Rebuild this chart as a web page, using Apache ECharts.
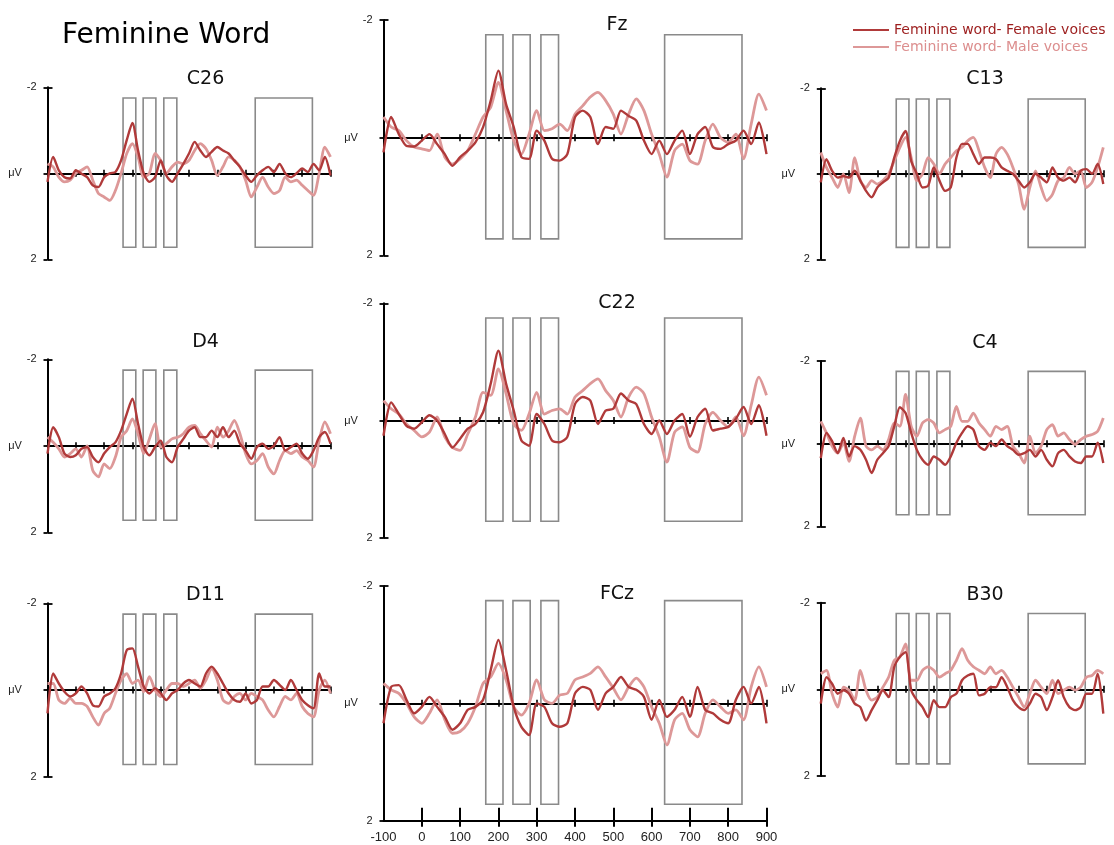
<!DOCTYPE html>
<html><head><meta charset="utf-8">
<script src="https://cdn.jsdelivr.net/npm/echarts@6/dist/echarts.min.js"></script>
<style>html,body{margin:0;padding:0;background:#fff}#c{width:1114px;height:845px}</style>
</head><body><div id="c"></div>
<script>
// ---------------- data ----------------
const times = [-100,-80,-60,-40,-20,0,20,40,60,80,100,120,140,160,180,200,220,240,260,280,300,320,340,360,380,400,420,440,460,480,500,520,540,560,580,600,620,640,660,680,700,720,740,760,780,800,820,840,860,880,900];
const zeroTickValues = [0,100,200,300,400,500,600,700,800,900];
const xLabelValues = [-100,0,100,200,300,400,500,600,700,800,900];
const yLabelValues = [-2, 2];
const analysisWindows = [[167,212],[238,283],[311,357],[634,836]];
const windowRange = [-1.75, 1.72];
const seriesNames = ['Feminine word- Female voices', 'Feminine word- Male voices'];
const mainTitle = 'Feminine Word';

const c26Female = [0.20,-0.38,-0.07,0.09,0.12,-0.07,0.01,0.09,0.28,0.32,0.09,0.00,-0.03,-0.30,-0.77,-1.17,-0.53,0.00,0.20,0.09,-0.30,0.05,0.20,0.00,-0.22,-0.46,-0.73,-0.53,-0.38,-0.50,-0.61,-0.53,-0.46,-0.30,-0.15,0.05,0.20,0.05,-0.07,-0.15,-0.03,-0.22,0.00,0.09,0.00,-0.11,-0.03,-0.22,-0.07,-0.38,0.05];
const c26Male = [-0.22,-0.15,0.09,0.20,0.16,0.00,-0.07,-0.15,0.16,0.47,0.55,0.63,0.40,0.00,-0.46,-0.69,-0.38,0.09,0.00,-0.46,-0.30,0.00,-0.15,-0.26,-0.22,-0.30,-0.53,-0.69,-0.57,-0.30,0.05,-0.15,-0.38,-0.30,-0.15,0.16,0.55,0.32,0.09,0.32,0.47,0.40,0.09,0.20,0.16,0.28,0.40,0.51,0.00,-0.61,-0.38];
const fzFemale = [0.25,-0.35,-0.06,0.14,0.15,0.05,-0.06,0.11,0.28,0.48,0.33,0.22,0.08,-0.18,-0.63,-1.14,-0.57,-0.18,0.33,0.36,-0.12,0.05,0.36,0.39,0.28,-0.35,-0.46,-0.35,0.11,-0.18,-0.15,-0.46,-0.37,-0.29,0.05,0.28,0.05,0.28,0.05,-0.12,0.28,-0.06,-0.18,0.16,0.19,0.11,0.05,-0.12,0.11,-0.26,0.28];
const fzMale = [-0.35,-0.18,-0.12,0.05,0.16,0.19,0.22,-0.06,0.33,0.45,0.36,0.22,-0.06,-0.35,-0.52,-0.94,-0.46,0.05,0.28,-0.06,-0.46,-0.12,-0.15,-0.23,-0.12,-0.40,-0.54,-0.69,-0.77,-0.63,-0.40,-0.06,-0.40,-0.66,-0.46,-0.06,0.28,0.67,0.22,0.11,0.39,0.45,0.05,-0.23,0.00,0.08,-0.06,0.36,-0.23,-0.74,-0.46];
const c13Female = [0.20,-0.34,-0.07,0.09,0.05,0.09,-0.07,0.16,0.40,0.55,0.32,0.20,0.09,-0.38,-0.77,-1.00,-0.30,0.00,0.32,0.28,-0.15,0.16,0.40,0.32,-0.38,-0.70,-0.70,-0.46,-0.23,-0.38,-0.38,-0.34,-0.15,-0.07,0.00,0.16,0.32,0.20,0.00,0.09,0.20,-0.15,0.09,0.16,0.09,0.20,-0.07,-0.11,0.00,-0.23,0.24];
const c13Male = [-0.50,-0.15,0.09,0.32,0.00,0.44,-0.38,0.16,0.32,0.16,0.24,0.16,0.00,-0.30,-0.62,-0.85,-0.38,0.16,0.00,-0.38,-0.23,0.00,-0.23,-0.38,-0.54,-0.62,-0.77,-0.85,-0.54,-0.15,0.09,-0.46,-0.62,-0.46,-0.15,0.24,0.83,0.32,-0.07,0.32,0.63,0.48,0.16,0.09,-0.15,0.00,-0.07,0.32,0.20,-0.15,-0.62];
const d4Female = [0.18,-0.43,-0.20,0.18,0.26,0.22,0.07,0.03,0.26,0.38,0.18,0.03,-0.08,-0.35,-0.74,-1.09,-0.51,0.03,0.22,0.03,-0.12,0.26,0.38,0.03,-0.16,-0.35,-0.43,-0.20,-0.20,-0.35,-0.20,-0.43,-0.20,-0.35,-0.05,0.11,0.30,0.03,-0.05,0.07,0.00,-0.20,0.11,0.03,-0.05,0.18,0.30,0.11,-0.20,-0.32,-0.05];
const d4Male = [-0.20,-0.08,0.07,0.26,0.18,0.07,0.26,0.00,0.57,0.72,0.42,0.53,0.26,-0.20,-0.35,-0.62,-0.28,0.18,-0.16,-0.51,0.03,-0.05,-0.16,-0.20,-0.28,-0.43,-0.47,-0.28,-0.12,0.03,-0.43,-0.20,-0.35,-0.59,-0.28,0.18,0.42,0.34,0.18,0.49,0.65,0.34,0.11,0.18,0.11,0.26,0.34,0.49,-0.12,-0.55,-0.28];
const c22Female = [0.26,-0.31,-0.11,0.09,0.14,0.03,-0.09,0.00,0.23,0.46,0.31,0.14,0.06,-0.14,-0.63,-1.19,-0.63,-0.17,0.34,0.43,-0.11,0.06,0.34,0.37,0.28,-0.28,-0.40,-0.34,0.06,-0.17,-0.20,-0.46,-0.34,-0.28,0.06,0.23,0.00,0.23,0.00,-0.11,0.28,-0.06,-0.20,0.17,0.14,0.11,-0.03,-0.23,0.06,-0.26,0.26];
const c22Male = [-0.34,-0.20,-0.11,0.06,0.17,0.28,0.20,-0.06,0.28,0.46,0.51,0.23,-0.06,-0.48,-0.43,-0.88,-0.46,0.06,0.17,-0.11,-0.48,-0.11,-0.17,-0.20,-0.11,-0.40,-0.51,-0.63,-0.71,-0.51,-0.34,-0.06,-0.40,-0.57,-0.46,-0.06,0.28,0.71,0.20,0.11,0.46,0.54,0.06,-0.14,0.00,0.11,-0.06,0.26,-0.26,-0.74,-0.43];
const c4Female = [0.35,-0.26,-0.06,0.23,-0.14,0.31,0.06,0.15,0.39,0.71,0.39,0.23,0.06,-0.42,-0.88,-0.74,-0.26,0.15,0.39,0.51,0.31,0.39,0.51,0.31,-0.02,-0.26,-0.42,-0.34,0.06,0.15,-0.02,0.06,-0.10,0.06,0.15,0.27,0.23,0.15,0.31,0.15,0.39,0.55,0.23,0.15,0.31,0.43,0.47,0.31,0.31,-0.02,0.47];
const c4Male = [-0.54,-0.26,0.06,0.23,-0.02,0.43,-0.18,-0.62,0.06,0.15,0.06,0.15,-0.10,-0.50,-0.42,-1.19,-0.42,-0.18,-0.50,-0.58,-0.50,-0.26,-0.34,-0.42,-0.90,-0.54,-0.54,-0.74,-0.50,-0.34,-0.18,-0.42,-0.34,-0.42,0.06,0.23,0.47,-0.18,0.23,0.06,-0.34,-0.46,-0.18,-0.26,-0.10,0.02,-0.10,-0.18,-0.22,-0.30,-0.62];
const d11Female = [0.54,-0.38,-0.15,0.04,0.15,0.08,-0.08,0.08,0.35,0.38,0.15,0.08,-0.04,-0.38,-0.92,-0.96,-0.54,-0.08,0.08,-0.04,0.08,0.23,0.08,0.00,-0.15,-0.23,-0.15,-0.08,-0.38,-0.54,-0.38,-0.15,0.08,0.23,0.27,0.08,0.31,0.23,-0.08,-0.08,-0.23,-0.12,0.00,-0.23,0.00,0.23,0.35,0.42,-0.38,-0.08,-0.08];
const d11Male = [-0.15,-0.15,0.23,0.31,0.19,0.31,0.31,0.38,0.62,0.81,0.54,0.42,0.08,-0.23,-0.38,-0.15,-0.23,0.04,-0.31,0.00,0.15,0.00,-0.15,-0.15,-0.08,-0.15,-0.23,-0.04,-0.23,-0.50,-0.23,0.23,0.31,0.15,0.08,0.23,0.08,0.15,0.23,0.46,0.62,0.38,0.15,0.23,0.08,0.38,0.54,0.62,0.00,-0.23,0.08];
const fczFemale = [0.34,-0.28,-0.31,-0.06,0.17,0.06,-0.11,0.06,0.23,0.45,0.34,0.11,0.06,-0.06,-0.57,-1.08,-0.57,0.06,0.40,0.54,0.00,0.06,0.34,0.40,0.34,-0.17,-0.28,-0.23,0.11,-0.17,-0.28,-0.45,-0.28,-0.23,-0.11,0.28,-0.06,0.23,0.11,-0.11,0.23,-0.28,0.11,0.17,0.28,0.34,-0.06,-0.28,0.00,-0.28,0.34];
const fczMale = [-0.34,-0.23,-0.17,0.00,0.23,0.34,0.17,-0.06,0.28,0.51,0.48,0.34,0.06,-0.34,-0.45,-0.68,-0.40,0.06,0.20,0.00,-0.40,-0.06,0.00,-0.14,-0.17,-0.40,-0.45,-0.51,-0.62,-0.45,-0.26,-0.06,-0.28,-0.43,-0.28,0.06,0.34,0.71,0.28,0.17,0.45,0.57,0.17,-0.06,0.06,0.17,0.11,0.28,-0.28,-0.62,-0.28];
const b30Female = [0.33,-0.28,-0.13,0.10,0.02,0.10,0.33,0.41,0.72,0.48,0.25,0.02,0.18,-0.52,-0.75,-0.86,0.02,0.25,0.41,0.64,0.25,0.41,0.41,0.18,0.10,-0.21,-0.32,-0.36,0.14,0.10,-0.05,-0.05,-0.28,-0.05,0.25,0.41,0.48,0.33,0.10,0.18,0.48,0.18,-0.21,0.18,0.41,0.48,0.41,0.10,0.10,-0.36,0.56];
const b30Male = [-0.36,-0.44,0.10,0.41,-0.05,0.02,0.25,-0.44,0.02,0.25,0.18,-0.05,-0.28,-0.67,-0.75,-1.05,-0.21,-0.21,-0.44,-0.52,-0.44,-0.28,-0.36,-0.44,-0.67,-0.94,-0.67,-0.52,-0.44,-0.36,-0.52,-0.36,-0.44,-0.28,-0.05,0.18,0.41,0.10,-0.21,-0.05,0.10,-0.21,0.10,0.02,-0.05,0.02,-0.05,-0.28,-0.32,-0.44,-0.36];

// ---------------- layout / style ----------------
const COL_L = {left: 47.5, width: 283, titleX: 205.5};
const COL_M = {left: 383.5, width: 383, titleX: 617};
const COL_R = {left: 820.8, width: 282.5, titleX: 985};
const panels = [
  {name:'C26', col:COL_L, top:87.3,  height:172,   titleY:79,  female:c26Female, male:c26Male},
  {name:'D4',  col:COL_L, top:359.3, height:173,   titleY:342.5, female:d4Female, male:d4Male},
  {name:'D11', col:COL_L, top:603.3, height:173.4, titleY:595, female:d11Female, male:d11Male},
  {name:'Fz',  col:COL_M, top:20,    height:235.3, titleY:25,  female:fzFemale, male:fzMale},
  {name:'C22', col:COL_M, top:303.3, height:234.4, titleY:303.5, female:c22Female, male:c22Male},
  {name:'FCz', col:COL_M, top:586,   height:234.7, titleY:594.5, female:fczFemale, male:fczMale, bottomAxis:true},
  {name:'C13', col:COL_R, top:88.3,  height:171,   titleY:79,  female:c13Female, male:c13Male},
  {name:'C4',  col:COL_R, top:361,   height:165.3, titleY:343, female:c4Female, male:c4Male},
  {name:'B30', col:COL_R, top:602.7, height:173.3, titleY:595, female:b30Female, male:b30Male}
];
const DARK = '#b03a3a';
const LIGHT = '#dd9898';
const DARK_TEXT = '#9c1d1d';
const LIGHT_TEXT = '#dc8e8e';
const BOX = '#8a8a8a';
const SANS = 'Liberation Sans, Arial, sans-serif';
const DEJA = 'DejaVu Sans, Verdana, sans-serif';

const grid = [], xAxis = [], yAxis = [], series = [];
const title = [{
  text: mainTitle, left: 62, top: 36, padding: 0,
  textAlign: 'left', textVerticalAlign: 'middle',
  textStyle: {fontFamily: DEJA, fontSize: 28, fontWeight: 'normal', color: '#000'}
}];

const axisBlack = {color: '#000', width: 2};
panels.forEach((p, k) => {
  grid.push({left: p.col.left, top: p.top, width: p.col.width, height: p.height, containLabel: false, outerBoundsMode: 'none'});
  title.push({
    text: p.name, left: p.col.titleX, top: p.titleY, padding: 0,
    textAlign: 'center', textVerticalAlign: 'middle',
    textStyle: {fontFamily: DEJA, fontSize: 19, fontWeight: 'normal', color: '#111'}
  });
  const yMain = yAxis.length;
  yAxis.push({
    type: 'value', gridIndex: k, min: -2, max: 2, inverse: true, position: 'left',
    axisLine: {show: true, onZero: false, lineStyle: axisBlack},
    axisTick: {show: true, customValues: [-2, 0, 2], length: 4, lineStyle: {color: '#000', width: 1.8}},
    axisLabel: {show: true, customValues: yLabelValues, margin: 11, fontSize: 11, fontFamily: SANS, color: '#222',
                formatter: v => String(v)},
    splitLine: {show: false},
    name: 'μV', nameLocation: 'middle', nameRotate: 0, nameGap: 22,
    nameTextStyle: {fontSize: 11, fontFamily: SANS, color: '#222'}
  });
  yAxis.push({
    type: 'value', gridIndex: k, min: -2, max: 2, inverse: true, position: 'left',
    axisLine: {show: false, onZero: false},
    axisTick: {show: true, inside: true, customValues: yLabelValues, length: 5, lineStyle: {color: '#000', width: 1.8}},
    axisLabel: {show: false}, splitLine: {show: false}
  });
  const xMain = xAxis.length;
  xAxis.push({
    type: 'value', gridIndex: k, min: -100, max: 900, interval: 100, position: 'bottom',
    axisLine: {show: true, onZero: true, onZeroAxisIndex: yMain, lineStyle: axisBlack},
    axisTick: {show: true, customValues: zeroTickValues, length: 3.5, lineStyle: {color: '#000', width: 1.6}},
    axisLabel: {show: false}, splitLine: {show: false}
  });
  xAxis.push({
    type: 'value', gridIndex: k, min: -100, max: 900, interval: 100, position: 'bottom',
    axisLine: {show: false, onZero: true, onZeroAxisIndex: yMain},
    axisTick: {show: true, inside: true, customValues: zeroTickValues, length: 3.5, lineStyle: {color: '#000', width: 1.6}},
    axisLabel: {show: false}, splitLine: {show: false}
  });
  if (p.bottomAxis) {
    xAxis.push({
      type: 'value', gridIndex: k, min: -100, max: 900, interval: 100, position: 'bottom',
      axisLine: {show: true, onZero: false, lineStyle: axisBlack},
      axisTick: {show: true, inside: true, customValues: zeroTickValues, length: 13, lineStyle: {color: '#000', width: 2}},
      axisLabel: {show: true, customValues: xLabelValues, margin: 10, fontSize: 13, fontFamily: SANS, color: '#222'},
      splitLine: {show: false}
    });
    xAxis.push({
      type: 'value', gridIndex: k, min: -100, max: 900, interval: 100, position: 'bottom',
      axisLine: {show: false, onZero: false},
      axisTick: {show: true, inside: false, customValues: zeroTickValues, length: 6, lineStyle: {color: '#000', width: 2}},
      axisLabel: {show: false}, splitLine: {show: false}
    });
  }
  series.push({
    type: 'line', name: seriesNames[1], xAxisIndex: xMain, yAxisIndex: yMain,
    data: times.map((t, i) => [t, p.male[i]]),
    symbol: 'none', smooth: 0.25, color: LIGHT, silent: true, z: 2,
    lineStyle: {color: LIGHT, width: 2.8},
    markArea: {
      silent: true,
      itemStyle: {color: 'rgba(0,0,0,0)', borderColor: BOX, borderWidth: 1.6},
      data: analysisWindows.map(w => [{xAxis: w[0], yAxis: windowRange[0]}, {xAxis: w[1], yAxis: windowRange[1]}])
    }
  });
  series.push({
    type: 'line', name: seriesNames[0], xAxisIndex: xMain, yAxisIndex: yMain,
    data: times.map((t, i) => [t, p.female[i]]),
    symbol: 'none', smooth: 0.25, color: DARK, silent: true, z: 3,
    lineStyle: {color: DARK, width: 2.4}
  });
});

const option = {
  backgroundColor: '#fff',
  animation: false,
  title, grid, xAxis, yAxis, series,
  legend: {
    orient: 'vertical', left: 853, top: 22, padding: 0,
    itemWidth: 36, itemHeight: 2, itemGap: 1, icon: 'rect', selectedMode: false,
    textStyle: {fontFamily: DEJA, fontSize: 14, lineHeight: 16},
    data: [
      {name: seriesNames[0], textStyle: {color: DARK_TEXT}},
      {name: seriesNames[1], textStyle: {color: LIGHT_TEXT}}
    ]
  }
};
const chart = echarts.init(document.getElementById('c'), null, {renderer: 'canvas'});
chart.setOption(option);
</script></body></html>
